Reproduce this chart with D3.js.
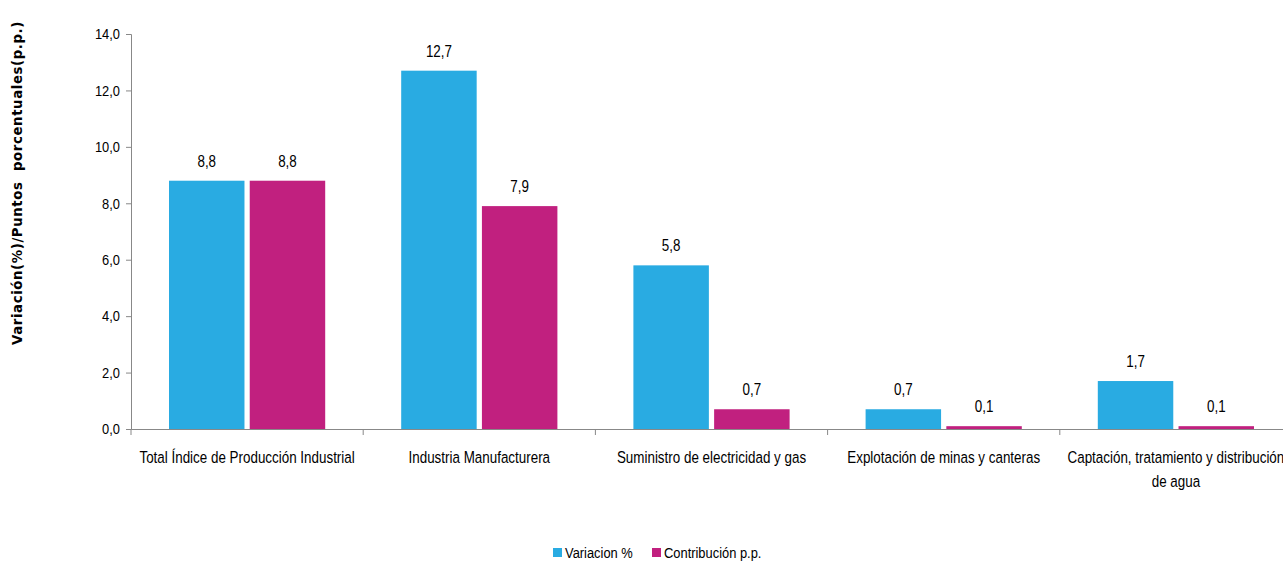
<!DOCTYPE html>
<html>
<head>
<meta charset="utf-8">
<script src="https://cdn.jsdelivr.net/npm/d3@7"></script>
<style>
  body { margin: 0; background: #fff; }
  svg { display: block; }
  text { font-family: "Liberation Sans Narrow", "Arial Narrow", "Liberation Sans", sans-serif; fill: #000; }
</style>
</head>
<body>
<svg id="chart" width="1283" height="564"></svg>
<script>
// chart values
const categories = [
  "Total Índice de Producción Industrial",
  "Industria Manufacturera",
  "Suministro de electricidad y gas",
  "Explotación de minas y canteras",
  "Captación, tratamiento y distribución de agua"
];
const variacion = [8.8, 12.7, 5.8, 0.7, 1.7];
const contribucion = [8.8, 7.9, 0.7, 0.1, 0.1];
const seriesNames = ["Variacion %", "Contribución p.p."];
const yTicks = [0, 2, 4, 6, 8, 10, 12, 14];

const colors = ["#29abe2", "#c1207f"];
// narrow look, the calibri-ish font is not installed
const squeeze = 0.86;

const margin = { left: 131, top: 34, bottom: 135 };
const width = 5 * 232.2;
const height = 564 - margin.top - margin.bottom;

const svg = d3.select("#chart");
const g = svg.append("g").attr("transform", `translate(${margin.left},${margin.top})`);

const x = d3.scaleBand().domain(categories).range([0, width]).paddingInner(0).paddingOuter(0);
const inner = d3.scaleBand().domain([0, 1]).range([38, x.bandwidth() - 38]).paddingInner(0.065);
const y = d3.scaleLinear().domain([0, 14]).range([height, 0]);
const fmt = v => d3.format(".1f")(v).replace(".", ",");

// y axis
const yAxis = g.append("g")
  .call(d3.axisLeft(y).tickValues(yTicks).tickSize(5).tickPadding(6).tickFormat(fmt));
yAxis.selectAll("text").style("font-size", "15px")
  .attr("transform", `scale(${squeeze},1)`)
  .attr("x", -11 / squeeze);
yAxis.selectAll("line, path").attr("stroke", "#888");

// x axis line
const xAxis = g.append("g").attr("transform", `translate(0,${height})`)
  .call(d3.axisBottom(x).tickSize(0).tickPadding(0));
xAxis.select("path").attr("stroke", "#888");
xAxis.selectAll(".tick").remove();
// boundary ticks between categories
g.append("g").selectAll("line")
  .data(d3.range(categories.length + 1))
  .join("line")
  .attr("x1", i => i * x.step()).attr("x2", i => i * x.step())
  .attr("y1", height).attr("y2", height + 6)
  .attr("stroke", "#888");

// category labels, wrapped when too long
const catLabels = g.append("g").selectAll("text")
  .data(categories)
  .join("text")
  .attr("transform", d => `translate(${x(d) + x.bandwidth() / 2},${height + 34}) scale(${squeeze},1)`)
  .attr("text-anchor", "middle")
  .style("font-size", "15.6px");
catLabels.each(function (d) {
  const el = d3.select(this);
  const words = d.split(" ");
  let line = [];
  let tspan = el.append("tspan").attr("x", 0).attr("dy", 0);
  words.forEach(w => {
    line.push(w);
    tspan.text(line.join(" "));
    if (tspan.node().getComputedTextLength() * squeeze > 232 && line.length > 1) {
      line.pop();
      tspan.text(line.join(" "));
      line = [w];
      tspan = el.append("tspan").attr("x", 0).attr("dy", 24).text(w);
    }
  });
});

// bars
const rows = categories.map((c, i) => ({ cat: c, vals: [variacion[i], contribucion[i]] }));
const groups = g.append("g").selectAll("g")
  .data(rows)
  .join("g")
  .attr("transform", d => `translate(${x(d.cat)},0)`);

groups.selectAll("rect")
  .data(d => d.vals.map((v, k) => ({ k, v })))
  .join("rect")
  .attr("x", d => inner(d.k))
  .attr("width", inner.bandwidth())
  .attr("y", d => y(d.v))
  .attr("height", d => height - y(d.v))
  .attr("fill", d => colors[d.k]);

groups.selectAll("text")
  .data(d => d.vals.map((v, k) => ({ k, v })))
  .join("text")
  .attr("transform", d => `translate(${inner(d.k) + inner.bandwidth() / 2},${y(d.v) - 14}) scale(${squeeze},1)`)
  .attr("text-anchor", "middle")
  .style("font-size", "15.6px")
  .text(d => fmt(d.v));

// y axis title
svg.append("text")
  .attr("transform", "translate(22,183) rotate(-90)")
  .attr("text-anchor", "middle")
  .attr("xml:space", "preserve")
  .style("font-family", "'DejaVu Sans', Verdana, sans-serif")
  .style("font-weight", "bold")
  .style("font-size", "13.3px")
  .style("letter-spacing", "0.6px")
  .text("Variación(%)/Puntos  porcentuales(p.p.)");

// legend
const legend = svg.append("g").attr("transform", "translate(553,546)");
const legendX = [0, 99];
seriesNames.forEach((name, i) => {
  const item = legend.append("g").attr("transform", `translate(${legendX[i]},0)`);
  item.append("rect").attr("width", 9).attr("height", 9).attr("y", 2).attr("fill", colors[i]);
  item.append("text")
    .attr("transform", `translate(12,12) scale(${squeeze},1)`)
    .style("font-size", "15px").text(name);
});
</script>
</body>
</html>
